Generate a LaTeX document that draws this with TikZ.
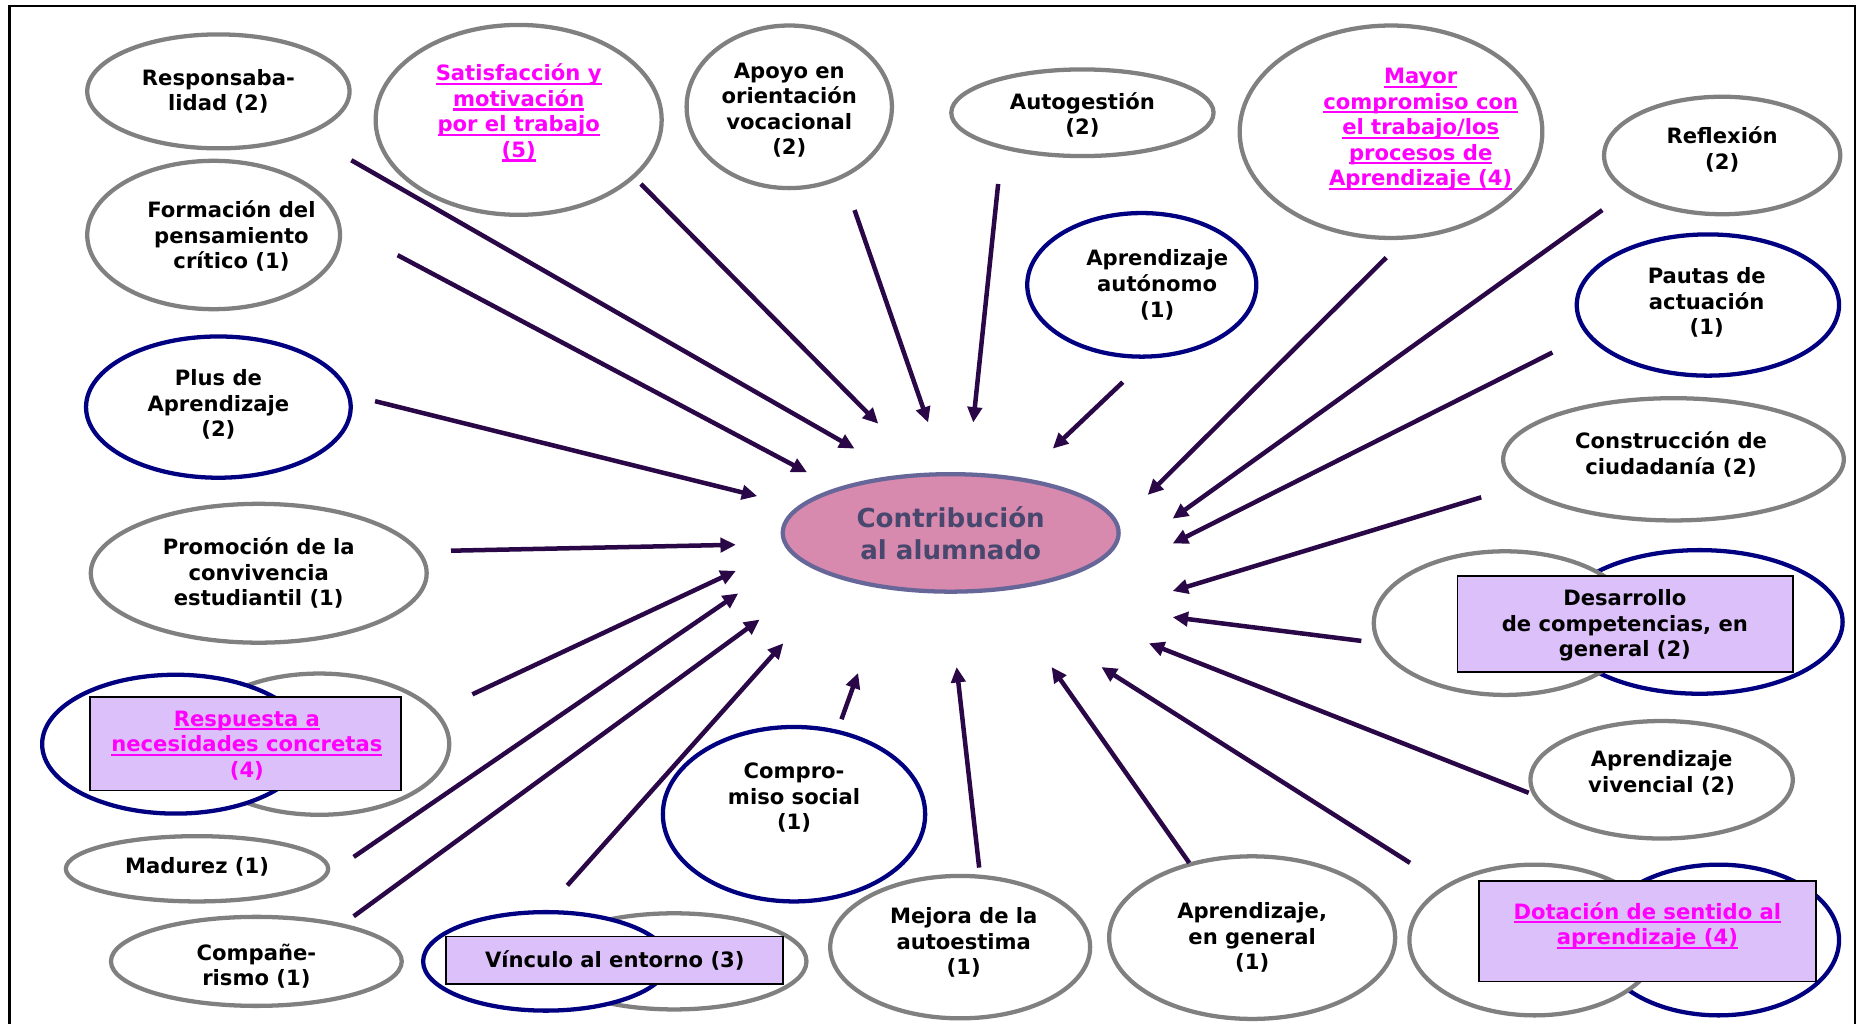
\documentclass[tikz,border=0pt]{standalone}
\usepackage{fontspec}
\setmainfont{DejaVu Sans}
\usetikzlibrary{shapes.geometric,arrows.meta}

\definecolor{edgegray}{RGB}{128,128,128}
\definecolor{edgenavy}{RGB}{0,0,128}
\definecolor{arrowc}{RGB}{42,8,72}
\definecolor{hubfill}{RGB}{216,137,174}
\definecolor{hubline}{RGB}{102,102,153}
\definecolor{hubtext}{RGB}{72,72,110}
\definecolor{boxfill}{RGB}{220,192,250}
\definecolor{linkpink}{RGB}{255,0,255}

% underlined hyperlink-style text, one line at a time
\newcommand\ulink[1]{\setbox0\hbox{#1}\rlap{\rule[-3.5pt]{\wd0}{1.8pt}}\box0}

\tikzset{
  bubble/.style 2 args={ellipse, minimum width=#1pt, minimum height=#2pt,
    inner sep=0pt, fill=white, line width=3.6pt},
  grayoval/.style={draw=edgegray},
  navyoval/.style={draw=edgenavy},
  txt/.style={align=center, inner sep=0pt, text=black,
    font=\fontsize{17.8}{21.5}\selectfont\bfseries},
  linktxt/.style={txt, text=linkpink},
  tagbox/.style={draw=black, line width=1.5pt, fill=boxfill, inner sep=0pt},
  feed/.style={draw=arrowc, line width=3.8pt, -{Triangle[length=13pt,width=12pt]}},
}

\begin{document}
\begin{tikzpicture}[x=1pt,y=-1pt]
\useasboundingbox (0,0) rectangle (1568,862);
\fill[white] (0,0) rectangle (1568,862);

% outer frame (open at the bottom)
\draw[line width=2pt] (8,880) -- (8,5) -- (1563,5) -- (1563,880);

% ---- bubbles ----
\node[bubble={221}{96}, grayoval]  (resp)   at (184,77)  {};
\node[bubble={241}{160}, grayoval] (satis)  at (437,101) {};
\node[bubble={173}{137}, grayoval] (apoyo)  at (665,90)  {};
\node[bubble={221}{73}, grayoval]  (autog)  at (912,95)  {};
\node[bubble={255}{179}, grayoval] (mayor)  at (1172,111) {};
\node[bubble={199}{99}, grayoval]  (reflex) at (1451,131) {};
\node[bubble={213}{125}, grayoval] (formac) at (180,198) {};
\node[bubble={193}{121}, navyoval] (auton)  at (962,240) {};
\node[bubble={221}{119}, navyoval] (pautas) at (1439,257) {};
\node[bubble={223}{119}, navyoval] (plus)   at (184,343) {};
\node[bubble={287}{103}, grayoval] (constr) at (1410,387) {};
\node[bubble={283}{117}, grayoval] (promo)  at (218,483) {};

\node[bubble={241}{121}, navyoval] (desN)   at (1432,524) {};
\node[bubble={221}{121}, grayoval] (desG)   at (1268,525) {};
\node[tagbox, minimum width=283pt, minimum height=81pt] (desB) at (1369.5,525.5) {};

\node[bubble={219}{119}, grayoval] (resG)   at (269,627) {};
\node[bubble={225}{117}, navyoval] (resN)   at (148,627) {};
\node[tagbox, minimum width=262pt, minimum height=79pt] (resB) at (207,626.5) {};

\node[bubble={221}{55}, grayoval]  (madur)  at (166,732) {};
\node[bubble={245}{75}, grayoval]  (compan) at (216,810) {};

\node[bubble={223}{81}, grayoval]  (vinG)   at (568,810) {};
\node[bubble={207}{83}, navyoval]  (vinN)   at (460,810) {};
\node[tagbox, minimum width=284pt, minimum height=40pt] (vinB) at (518,809) {};

\node[bubble={221}{147}, navyoval] (compsoc) at (669,686) {};
\node[bubble={219}{120}, grayoval] (mejora) at (809,798) {};
\node[bubble={241}{137}, grayoval] (aprgen) at (1055,790) {};

\node[bubble={203}{127}, navyoval] (dotN)   at (1448,792) {};
\node[bubble={211}{127}, grayoval] (dotG)   at (1293,792) {};
\node[tagbox, minimum width=284pt, minimum height=85pt] (dotB) at (1388,784.5) {};

\node[bubble={221}{99}, grayoval]  (viven)  at (1400,657) {};

% central bubble
\node[ellipse, minimum width=283pt, minimum height=99pt, inner sep=0pt,
      fill=hubfill, draw=hubline, line width=3.6pt] (hub) at (801,449) {};

% ---- texts ----
\node[txt] (tresp) at (184,77) {Responsaba-\\lidad (2)};
\node[linktxt] (tsatis) at (437,95) {\ulink{Satisfacción y}\\\ulink{motivación}\\\ulink{por el trabajo}\\\ulink{(5)}};
\node[txt] (tapoyo) at (665,93) {Apoyo en\\orientación\\vocacional\\(2)};
\node[txt] (tautog) at (912,97) {Autogestión\\(2)};
\node[linktxt] (tmayor) at (1197,109) {\ulink{Mayor}\\\ulink{compromiso con}\\\ulink{el trabajo/los}\\\ulink{procesos de}\\\ulink{Aprendizaje (4)}};
\node[txt] (treflex) at (1451,126) {Reflexión\\(2)};
\node[txt] (tformac) at (195,199) {Formación del\\pensamiento\\crítico (1)};
\node[txt] (tauton) at (975,240) {Aprendizaje\\autónomo\\(1)};
\node[txt] (tpautas) at (1438,255) {Pautas de\\actuación\\(1)};
\node[txt] (tplus) at (184,341) {Plus de\\Aprendizaje\\(2)};
\node[txt] (tconstr) at (1408,383) {Construcción de\\ciudadanía (2)};
\node[txt] (tpromo) at (218,483) {Promoción de la\\convivencia\\estudiantil (1)};
\node[txt] (tdes) at (1369,527) {Desarrollo\\de competencias, en\\general (2)};
\node[linktxt] (tres) at (208,628) {\ulink{Respuesta a}\\\ulink{necesidades concretas}\\(4)};
\node[txt] (tmadur) at (166,730) {Madurez (1)};
\node[txt] (tcompan) at (216,814) {Compañe-\\rismo (1)};
\node[txt] (tvin) at (518,809) {Vínculo al entorno (3)};
\node[txt] (tcompsoc) at (669,672) {Compro-\\miso social\\(1)};
\node[txt] (tmejora) at (812,794) {Mejora de la\\autoestima\\(1)};
\node[txt] (taprgen) at (1055,790) {Aprendizaje,\\en general\\(1)};
\node[linktxt] (tdot) at (1388,780) {\ulink{Dotación de sentido al}\\\ulink{aprendizaje (4)}};
\node[txt] (tviven) at (1400,651) {Aprendizaje\\vivencial (2)};

\node[align=center, inner sep=0pt, text=hubtext,
      font=\fontsize{22}{27}\selectfont\bfseries] (thub) at (801,449)
      {Contribución\\al alumnado};

% ---- connector end points ----
\coordinate (sResp)  at (296,135);  \coordinate (eResp)  at (720,378);
\coordinate (sSatis) at (540,155);  \coordinate (eSatis) at (740,357);
\coordinate (sApoyo) at (720,177);  \coordinate (eApoyo) at (782,356);
\coordinate (sAutog) at (841,155);  \coordinate (eAutog) at (820,356);
\coordinate (sAuton) at (946,322);  \coordinate (eAuton) at (887,378);
\coordinate (sForm)  at (335,215);  \coordinate (eForm)  at (680,398);
\coordinate (sPlus)  at (316,338);  \coordinate (ePlus)  at (638,418);
\coordinate (sPromo) at (380,464);  \coordinate (ePromo) at (620,459);
\coordinate (sMayor) at (1168,217); \coordinate (eMayor) at (967,417);
\coordinate (sRefl)  at (1350,177); \coordinate (eRefl)  at (988,437);
\coordinate (sPaut)  at (1308,297); \coordinate (ePaut)  at (988,458);
\coordinate (sConst) at (1248,419); \coordinate (eConst) at (988,498);
\coordinate (sDes)   at (1147,540); \coordinate (eDes)   at (988,520);
\coordinate (sViv)   at (1288,668); \coordinate (eViv)   at (968,542);
\coordinate (sDot)   at (1188,727); \coordinate (eDot)   at (928,562);
\coordinate (sAprg)  at (1002,727); \coordinate (eAprg)  at (886,562);
\coordinate (sMej)   at (825,731);  \coordinate (eMej)   at (806,562);
\coordinate (sCsoc)  at (709,606);  \coordinate (eCsoc)  at (723,567);
\coordinate (sVin)   at (478,746);  \coordinate (eVin)   at (660,542);
\coordinate (sComp)  at (298,772);  \coordinate (eComp)  at (640,522);
\coordinate (sMad)   at (298,722);  \coordinate (eMad)   at (622,500);
\coordinate (sRes)   at (398,585);  \coordinate (eRes)   at (620,481);

% ---- connectors ----
\foreach \k in {Resp,Satis,Apoyo,Autog,Auton,Form,Plus,Promo,Mayor,Refl,Paut,
                Const,Des,Viv,Dot,Aprg,Mej,Csoc,Vin,Comp,Mad,Res}
  \draw[feed] (s\k) -- (e\k);

\end{tikzpicture}
\end{document}
